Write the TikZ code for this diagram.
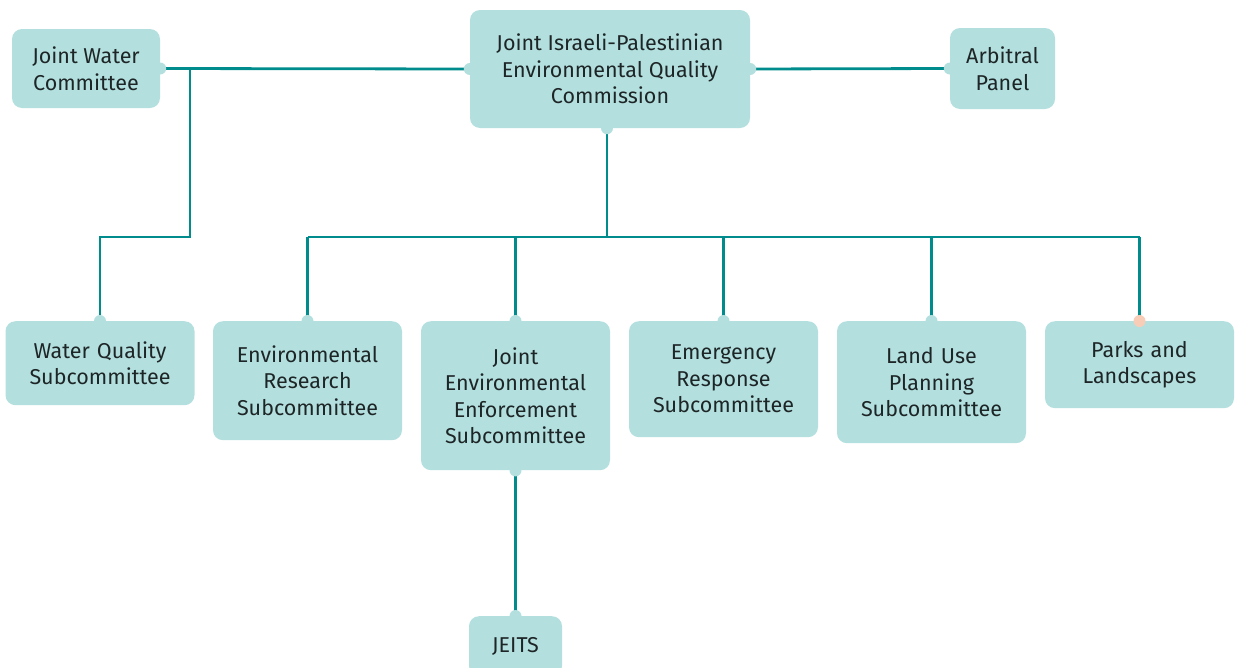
\documentclass[tikz,border=0pt]{standalone}
\usepackage{fontspec}
\setmainfont{Fira Sans}
\definecolor{boxteal}{HTML}{B3E0DF}
\definecolor{lineteal}{HTML}{008C8C}
\definecolor{peach}{HTML}{F7CDB8}
\definecolor{inktext}{HTML}{1E2526}

\begin{document}
\begin{tikzpicture}[
  x=1pt, y=-1pt,
  font=\fontsize{21.5}{26.5}\selectfont,
  orgbox/.style={rectangle, rounded corners=10pt, fill=boxteal, text=inktext, align=center, inner sep=0pt},
  subbox/.style={orgbox, minimum width=189pt, text width=185pt, anchor=north},
  link/.style={draw=lineteal, line width=2.8pt},
  knob/.style={fill=boxteal}
]
\useasboundingbox (0,0) rectangle (1240,667);

\node (water) [orgbox, minimum width=148pt, minimum height=79pt] at (86,68.5) {Joint Water\\Committee};
\node (commission) [orgbox, minimum width=280pt, minimum height=118pt] at (610,69) {Joint Israeli-Palestinian\\Environmental Quality\\Commission};
\node (arbitral) [orgbox, minimum width=105pt, minimum height=81pt] at (1002.5,68.5) {Arbitral\\Panel};

\node (quality) [subbox, minimum height=84pt] at (100,321) {Water Quality\\Subcommittee};
\node (research) [subbox, minimum height=119pt] at (307.5,321) {Environmental\\Research\\Subcommittee};
\node (enforce) [subbox, minimum height=149pt] at (515.5,321) {Joint\\Environmental\\Enforcement\\Subcommittee};
\node (emergency) [subbox, minimum height=116pt] at (723.5,321) {Emergency\\Response\\Subcommittee};
\node (landuse) [subbox, minimum height=122pt] at (931.5,321) {Land Use\\Planning\\Subcommittee};
\node (parks) [subbox, minimum height=87pt] at (1139.5,321) {Parks and\\Landscapes};
\node (jeits) [orgbox, minimum width=93pt, minimum height=60pt, anchor=north] at (515.5,616) {JEITS};

\coordinate (bus) at (607,237);
\coordinate (wbend) at (190,237);

\draw [link] (water.east) -- (commission.west);
\draw [link] (commission.east) -- (arbitral.west);
\draw [link] (wbend |- water.east) -- (wbend) -- (quality.north |- wbend) -- (quality.north);
\draw [link] (bus |- commission.south) -- (bus);
\draw [link] (research.north |- bus) -- (parks.north |- bus);
\foreach \n in {research, enforce, emergency, landuse, parks}
  \draw [link] (\n.north |- bus) -- (\n.north);
\draw [link] (enforce.south) -- (jeits.north);

% small knobs where the lines meet the boxes
\foreach \a in {water.east, commission.west, commission.east, arbitral.west, quality.north, research.north, enforce.north, emergency.north, landuse.north, enforce.south, jeits.north}
  \fill [knob] (\a) circle (6pt);
\fill [knob] (bus |- commission.south) circle (6pt);
\fill [peach] (parks.north) circle (6pt);

\end{tikzpicture}
\end{document}
